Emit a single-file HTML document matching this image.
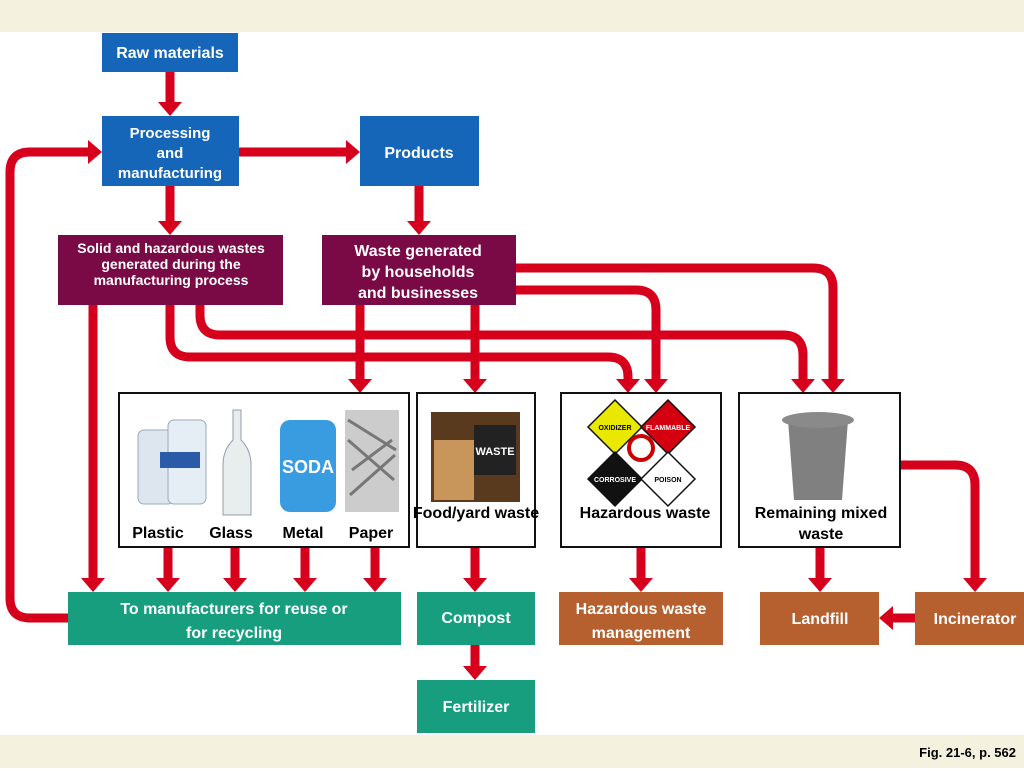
<!DOCTYPE html>
<html><head><meta charset="utf-8"><style>
body{margin:0;width:1024px;height:768px;overflow:hidden;background:#fff;font-family:"Liberation Sans",sans-serif}
</style></head><body>
<svg width="1024" height="768" viewBox="0 0 1024 768" xmlns="http://www.w3.org/2000/svg" font-family="Liberation Sans, sans-serif" font-weight="bold">
<rect x="0" y="0" width="1024" height="32" fill="#f4f2de"/>
<rect x="0" y="735" width="1024" height="33" fill="#f4f2de"/>
<defs>
<marker id="a" markerUnits="userSpaceOnUse" markerWidth="24" markerHeight="24" refX="2" refY="12" orient="auto"><path d="M0,0 L14,12 L0,24 Z" fill="#d6001c"/></marker>
</defs>
<g fill="none" stroke="#d6001c" stroke-width="9">
<path d="M170 72 V104" marker-end="url(#a)"/>
<path d="M68 618 H30 Q10 618 10 598 V172 Q10 152 30 152 H90" marker-end="url(#a)"/>
<path d="M239 152 H348" marker-end="url(#a)"/>
<path d="M170 186 V223" marker-end="url(#a)"/>
<path d="M419 186 V223" marker-end="url(#a)"/>
<path d="M93 305 V580" marker-end="url(#a)"/>
<path d="M170 305 V337 Q170 357 190 357 H608 Q628 357 628 377 V381" marker-end="url(#a)"/>
<path d="M200 305 V315 Q200 335 220 335 H783 Q803 335 803 355 V381" marker-end="url(#a)"/>
<path d="M360 305 V381" marker-end="url(#a)"/>
<path d="M475 305 V381" marker-end="url(#a)"/>
<path d="M516 268 H813 Q833 268 833 288 V381" marker-end="url(#a)"/>
<path d="M516 290 H636 Q656 290 656 310 V381" marker-end="url(#a)"/>
<path d="M168 547 V580" marker-end="url(#a)"/>
<path d="M235 547 V580" marker-end="url(#a)"/>
<path d="M305 547 V580" marker-end="url(#a)"/>
<path d="M375 547 V580" marker-end="url(#a)"/>
<path d="M475 547 V580" marker-end="url(#a)"/>
<path d="M475 645 V668" marker-end="url(#a)"/>
<path d="M641 547 V580" marker-end="url(#a)"/>
<path d="M820 547 V580" marker-end="url(#a)"/>
<path d="M900 465 H955 Q975 465 975 485 V580" marker-end="url(#a)"/>
<path d="M915 618 H891" marker-end="url(#a)"/>
</g>
<g fill="#1565b8"><rect x="102" y="33" width="136" height="39"/><rect x="102" y="116" width="137" height="70"/><rect x="360" y="116" width="119" height="70"/></g>
<g fill="#7a0a45"><rect x="58" y="235" width="225" height="70"/><rect x="322" y="235" width="194" height="70"/></g>
<g fill="#169e7f"><rect x="68" y="592" width="333" height="53"/><rect x="417" y="592" width="118" height="53"/><rect x="417" y="680" width="118" height="53"/></g>
<g fill="#b5602e"><rect x="559" y="592" width="164" height="53"/><rect x="760" y="592" width="119" height="53"/><rect x="915" y="592" width="109" height="53"/></g>
<g fill="#fff" stroke="#111" stroke-width="2"><rect x="119" y="393" width="290" height="154"/><rect x="417" y="393" width="118" height="154"/><rect x="561" y="393" width="160" height="154"/><rect x="739" y="393" width="161" height="154"/></g>
<!-- images -->
<rect x="138" y="430" width="36" height="74" rx="6" fill="#dde6ef" stroke="#9ab" />
<rect x="168" y="420" width="38" height="84" rx="6" fill="#e6eef5" stroke="#9ab"/>
<rect x="160" y="452" width="40" height="16" fill="#2a5aa8"/>
<path d="M233 410 h8 v30 q10 10 10 25 v50 h-28 v-50 q0 -15 10 -25z" fill="#e8eeee" stroke="#99a"/>
<rect x="280" y="420" width="56" height="92" rx="10" fill="#3a9ce0"/>
<text x="308" y="473" font-size="18" fill="#fff" text-anchor="middle">SODA</text>
<rect x="345" y="410" width="54" height="102" fill="#ccc"/>
<path d="M348 420 l48 30 M348 440 l46 40 M352 470 l40 -30 M350 495 l45 -40" stroke="#777" stroke-width="3"/>
<rect x="431" y="412" width="89" height="90" fill="#5a3a1f"/>
<rect x="434" y="440" width="40" height="60" fill="#c8955a"/>
<rect x="474" y="425" width="42" height="50" fill="#222"/>
<text x="495" y="455" font-size="11" fill="#fff" text-anchor="middle">WASTE</text>
<g stroke="#111" stroke-width="1.5">
<path d="M615 400 L642 427 L615 454 L588 427Z" fill="#e8e800"/>
<path d="M668 400 L695 427 L668 454 L641 427Z" fill="#d40010"/>
<path d="M615 452 L642 479 L615 506 L588 479Z" fill="#111"/>
<path d="M668 452 L695 479 L668 506 L641 479Z" fill="#fff"/>
</g>
<circle cx="641" cy="448" r="12" fill="none" stroke="#c00" stroke-width="4"/>
<text x="615" y="430" font-size="7" text-anchor="middle" fill="#000">OXIDIZER</text>
<text x="668" y="430" font-size="7" text-anchor="middle" fill="#fff">FLAMMABLE</text>
<text x="615" y="482" font-size="7" text-anchor="middle" fill="#fff">CORROSIVE</text>
<text x="668" y="482" font-size="7" text-anchor="middle" fill="#000">POISON</text>
<path d="M788 420 h60 l-6 80 h-48z" fill="#808080"/>
<ellipse cx="818" cy="420" rx="36" ry="8" fill="#8a8a8a"/>
<g fill="#fff" font-size="16" text-anchor="middle">
<text x="170" y="58">Raw materials</text>
<text x="170" y="138" font-size="15">Processing</text><text x="170" y="158" font-size="15">and</text><text x="170" y="178" font-size="15">manufacturing</text>
<text x="419" y="158">Products</text>
<text x="171" y="253" font-size="14">Solid and hazardous wastes</text><text x="171" y="269" font-size="14">generated during the</text><text x="171" y="285" font-size="14">manufacturing process</text>
<text x="418" y="256">Waste generated</text><text x="418" y="277">by households</text><text x="418" y="298">and businesses</text>
<text x="234" y="614">To manufacturers for reuse or</text><text x="234" y="638">for recycling</text>
<text x="476" y="623">Compost</text><text x="476" y="712">Fertilizer</text>
<text x="641" y="614">Hazardous waste</text><text x="641" y="638">management</text>
<text x="820" y="624">Landfill</text><text x="975" y="624">Incinerator</text>
</g>
<g fill="#000" font-size="16" text-anchor="middle">
<text x="158" y="538">Plastic</text><text x="231" y="538">Glass</text><text x="303" y="538">Metal</text><text x="371" y="538">Paper</text>
<text x="476" y="518">Food/yard waste</text>
<text x="645" y="518">Hazardous waste</text>
<text x="821" y="518">Remaining mixed</text><text x="821" y="539">waste</text>
<text x="1016" y="757" font-size="13" text-anchor="end">Fig. 21-6, p. 562</text>
</g>
</svg>
</body></html>
